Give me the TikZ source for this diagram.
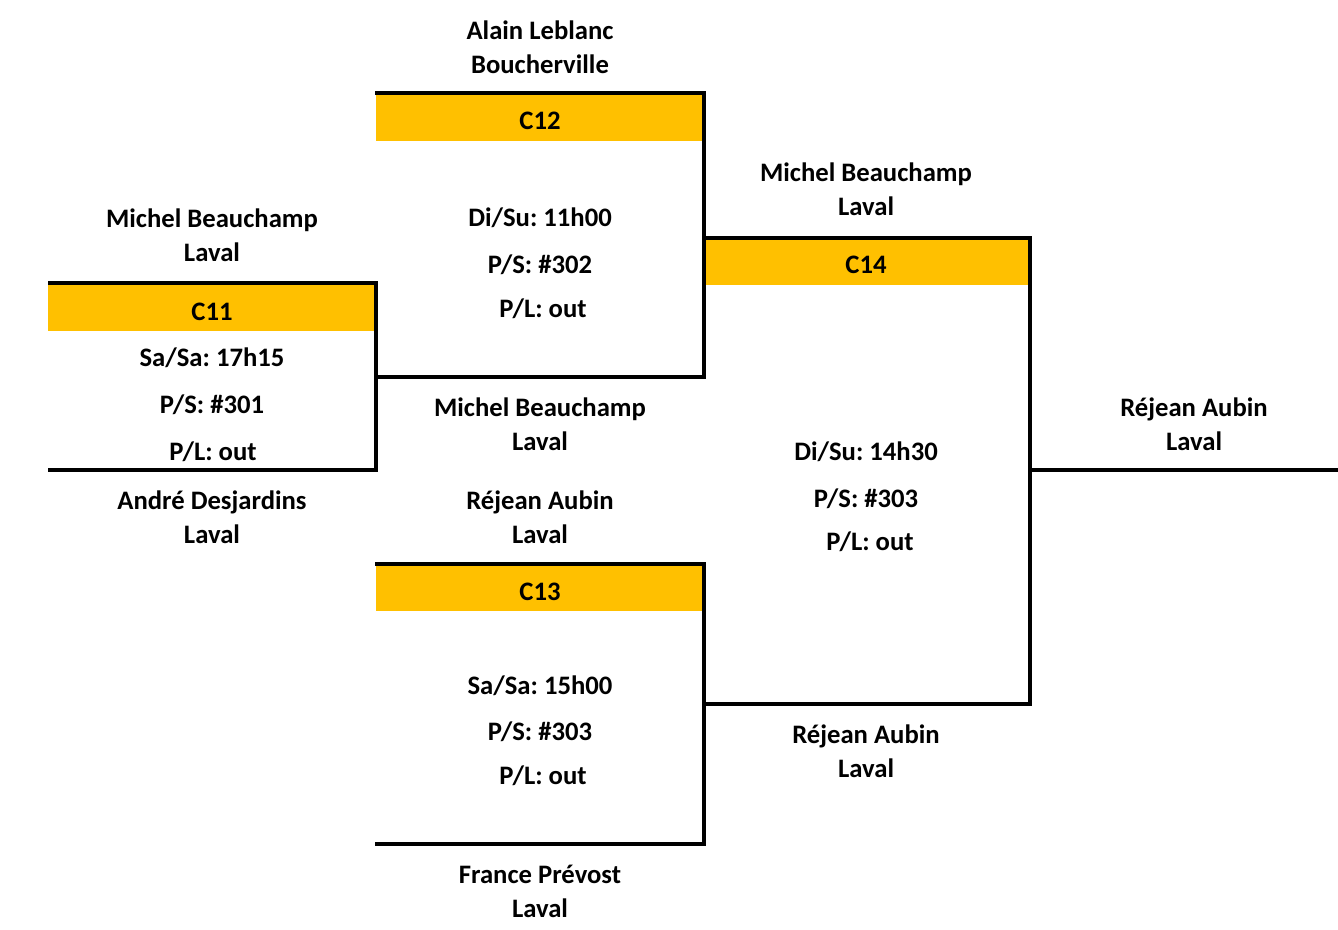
\documentclass[tikz,border=0pt]{standalone}
\usepackage{fontspec}
\setmainfont{Carlito}
\definecolor{band}{HTML}{FFC000}
\begin{document}
\frenchspacing
\begin{tikzpicture}[x=0.75pt,y=-0.75pt,
  txt/.style={font=\bfseries\fontsize{20}{25.5}\selectfont, align=center, inner sep=0pt},
  bline/.style={line width=3pt, line join=miter, line cap=butt},
  bandbox/.style={fill=band, draw=none}]
\useasboundingbox (0,0) rectangle (1338,929);
% orange bands
\fill[bandbox] (48,285) rectangle (374,331);
\fill[bandbox] (376,95) rectangle (702,141);
\fill[bandbox] (376,566) rectangle (702,611);
\fill[bandbox] (704,240) rectangle (1028,285);
% corner coordinates
\coordinate (a1) at (48,283);  \coordinate (a2) at (376,283);
\coordinate (a3) at (376,470); \coordinate (a4) at (48,470);
\coordinate (b1) at (375,93);  \coordinate (b2) at (704,93);
\coordinate (b3) at (704,377); \coordinate (b4) at (376,377);
\coordinate (c1) at (375,564); \coordinate (c2) at (704,564);
\coordinate (c3) at (704,844); \coordinate (c4) at (375,844);
\coordinate (d1) at (704,238); \coordinate (d2) at (1030,238);
\coordinate (d3) at (1030,704); \coordinate (d4) at (704,704);
\coordinate (e1) at (1030,470); \coordinate (e2) at (1338,470);
% bracket lines
\draw[bline] (a1) -- (a2) -- (a3) -- (a4);
\draw[bline] (b1) -- (b2) -- (b3) -- (b4);
\draw[bline] (c1) -- (c2) -- (c3) -- (c4);
\draw[bline] (d1) -- (d2) -- (d3) -- (d4);
\draw[bline] (e1) -- (e2);
% match titles
\node[txt] (t11) at (212,312) {C11};
\node[txt] (t12) at (540,121) {C12};
\node[txt] (t13) at (540,592) {C13};
\node[txt] (t14) at (866,265) {C14};
% players
\node[txt] (p1) at (540,47) {Alain Leblanc\\Boucherville};
\node[txt] (p2) at (212,235) {Michel Beauchamp\\Laval};
\node[txt] (p3) at (212,517) {André Desjardins\\Laval};
\node[txt] (p4) at (540,424) {Michel Beauchamp\\Laval};
\node[txt] (p5) at (540,517) {Réjean Aubin\\Laval};
\node[txt] (p6) at (540,891) {France Prévost\\Laval};
\node[txt] (p7) at (866,189) {Michel Beauchamp\\Laval};
\node[txt] (p8) at (866,751) {Réjean Aubin\\Laval};
\node[txt] (p9) at (1194,424) {Réjean Aubin\\Laval};
% C11 info
\node[txt] (i11a) at (212,358) {Sa/Sa: 17h15};
\node[txt] (i11b) at (212,405) {P/S: \#301};
\node[txt] (i11c) at (213,452) {P/L: out};
% C12 info
\node[txt] (i12a) at (540,218) {Di/Su: 11h00};
\node[txt] (i12b) at (540,265) {P/S: \#302};
\node[txt] (i12c) at (543,309) {P/L: out};
% C13 info
\node[txt] (i13a) at (540,686) {Sa/Sa: 15h00};
\node[txt] (i13b) at (540,732) {P/S: \#303};
\node[txt] (i13c) at (543,776) {P/L: out};
% C14 info
\node[txt] (i14a) at (866,452) {Di/Su: 14h30};
\node[txt] (i14b) at (866,499) {P/S: \#303};
\node[txt] (i14c) at (870,542) {P/L: out};
\end{tikzpicture}
\end{document}
